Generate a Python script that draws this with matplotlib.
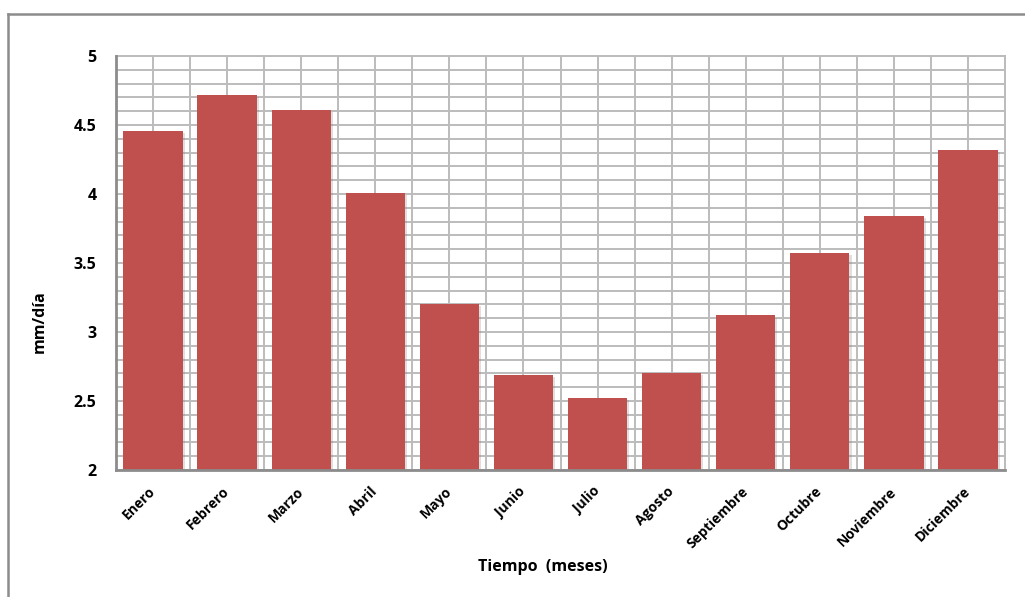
import numpy as np
import matplotlib.pyplot as plt
from matplotlib import patheffects
from matplotlib.lines import Line2D

# evapotranspiracion media mensual
meses = ['Enero', 'Febrero', 'Marzo', 'Abril', 'Mayo', 'Junio', 'Julio',
         'Agosto', 'Septiembre', 'Octubre', 'Noviembre', 'Diciembre']
valores = [4.46, 4.72, 4.61, 4.01, 3.20, 2.69, 2.52, 2.70, 3.12, 3.57, 3.84, 4.32]

plt.rcParams['font.family'] = ['Open Sans', 'DejaVu Sans']
peso = 'bold'

fig = plt.figure(figsize=(10.25, 5.97), dpi=100)
ax = fig.add_axes([116/1025, 1-470/597, (1005-116)/1025, (470-56)/597])

x = np.arange(len(meses))
bars = ax.bar(x, valores, width=0.8, color='#C0504D', zorder=3)
for b in bars:
    b.set_path_effects([patheffects.SimplePatchShadow(offset=(1.5, -1.5), alpha=0.25, shadow_rgbFace='#808080'),
                        patheffects.Normal()])

ax.set_ylim(2, 5)
ax.set_xlim(-0.5, len(meses) - 0.5)
ax.set_yticks(np.arange(2, 5.01, 0.5))
ax.set_yticklabels(['2', '2.5', '3', '3.5', '4', '4.5', '5'], fontsize=11.5, fontweight=peso)
ax.set_yticks(np.arange(2, 5.01, 0.1), minor=True)
ax.set_xticks(x)
ax.set_xticklabels(meses, rotation=45, ha='right', va='center', rotation_mode='anchor',
                   fontsize=10, fontweight=peso)
ax.set_xticks(np.arange(-0.5, len(meses), 0.5), minor=True)
ax.tick_params(axis='both', which='both', length=0)
ax.tick_params(axis='x', which='major', pad=14)
ax.tick_params(axis='y', which='major', pad=14)

# rejilla: cada 0.1 en y, cada media categoria en x
ax.grid(True, which='both', color='#bcbcbc', linewidth=1.4, zorder=0)
ax.set_axisbelow(True)

for side in ['top', 'right']:
    ax.spines[side].set_color('#bcbcbc')
    ax.spines[side].set_linewidth(1.4)
for side in ['left', 'bottom']:
    ax.spines[side].set_color('#8c8c8c')
    ax.spines[side].set_linewidth(2.0)
    ax.spines[side].set_zorder(4)

fig.text(40/1025, 1-322/597, 'mm/día', rotation=90, ha='center', va='center',
         fontsize=11.5, fontweight=peso)
fig.text(543/1025, 1-567/597, 'Tiempo  (meses)', ha='center', va='center',
         fontsize=11.5, fontweight=peso)

# borde del area del grafico
fig.add_artist(Line2D([8/1025, 1.0], [1-14/597, 1-14/597], color='#8c8c8c', linewidth=1.8))
fig.add_artist(Line2D([8/1025, 8/1025], [0.0, 1-14/597], color='#8c8c8c', linewidth=1.8))

fig.savefig('out.png', dpi=100)
